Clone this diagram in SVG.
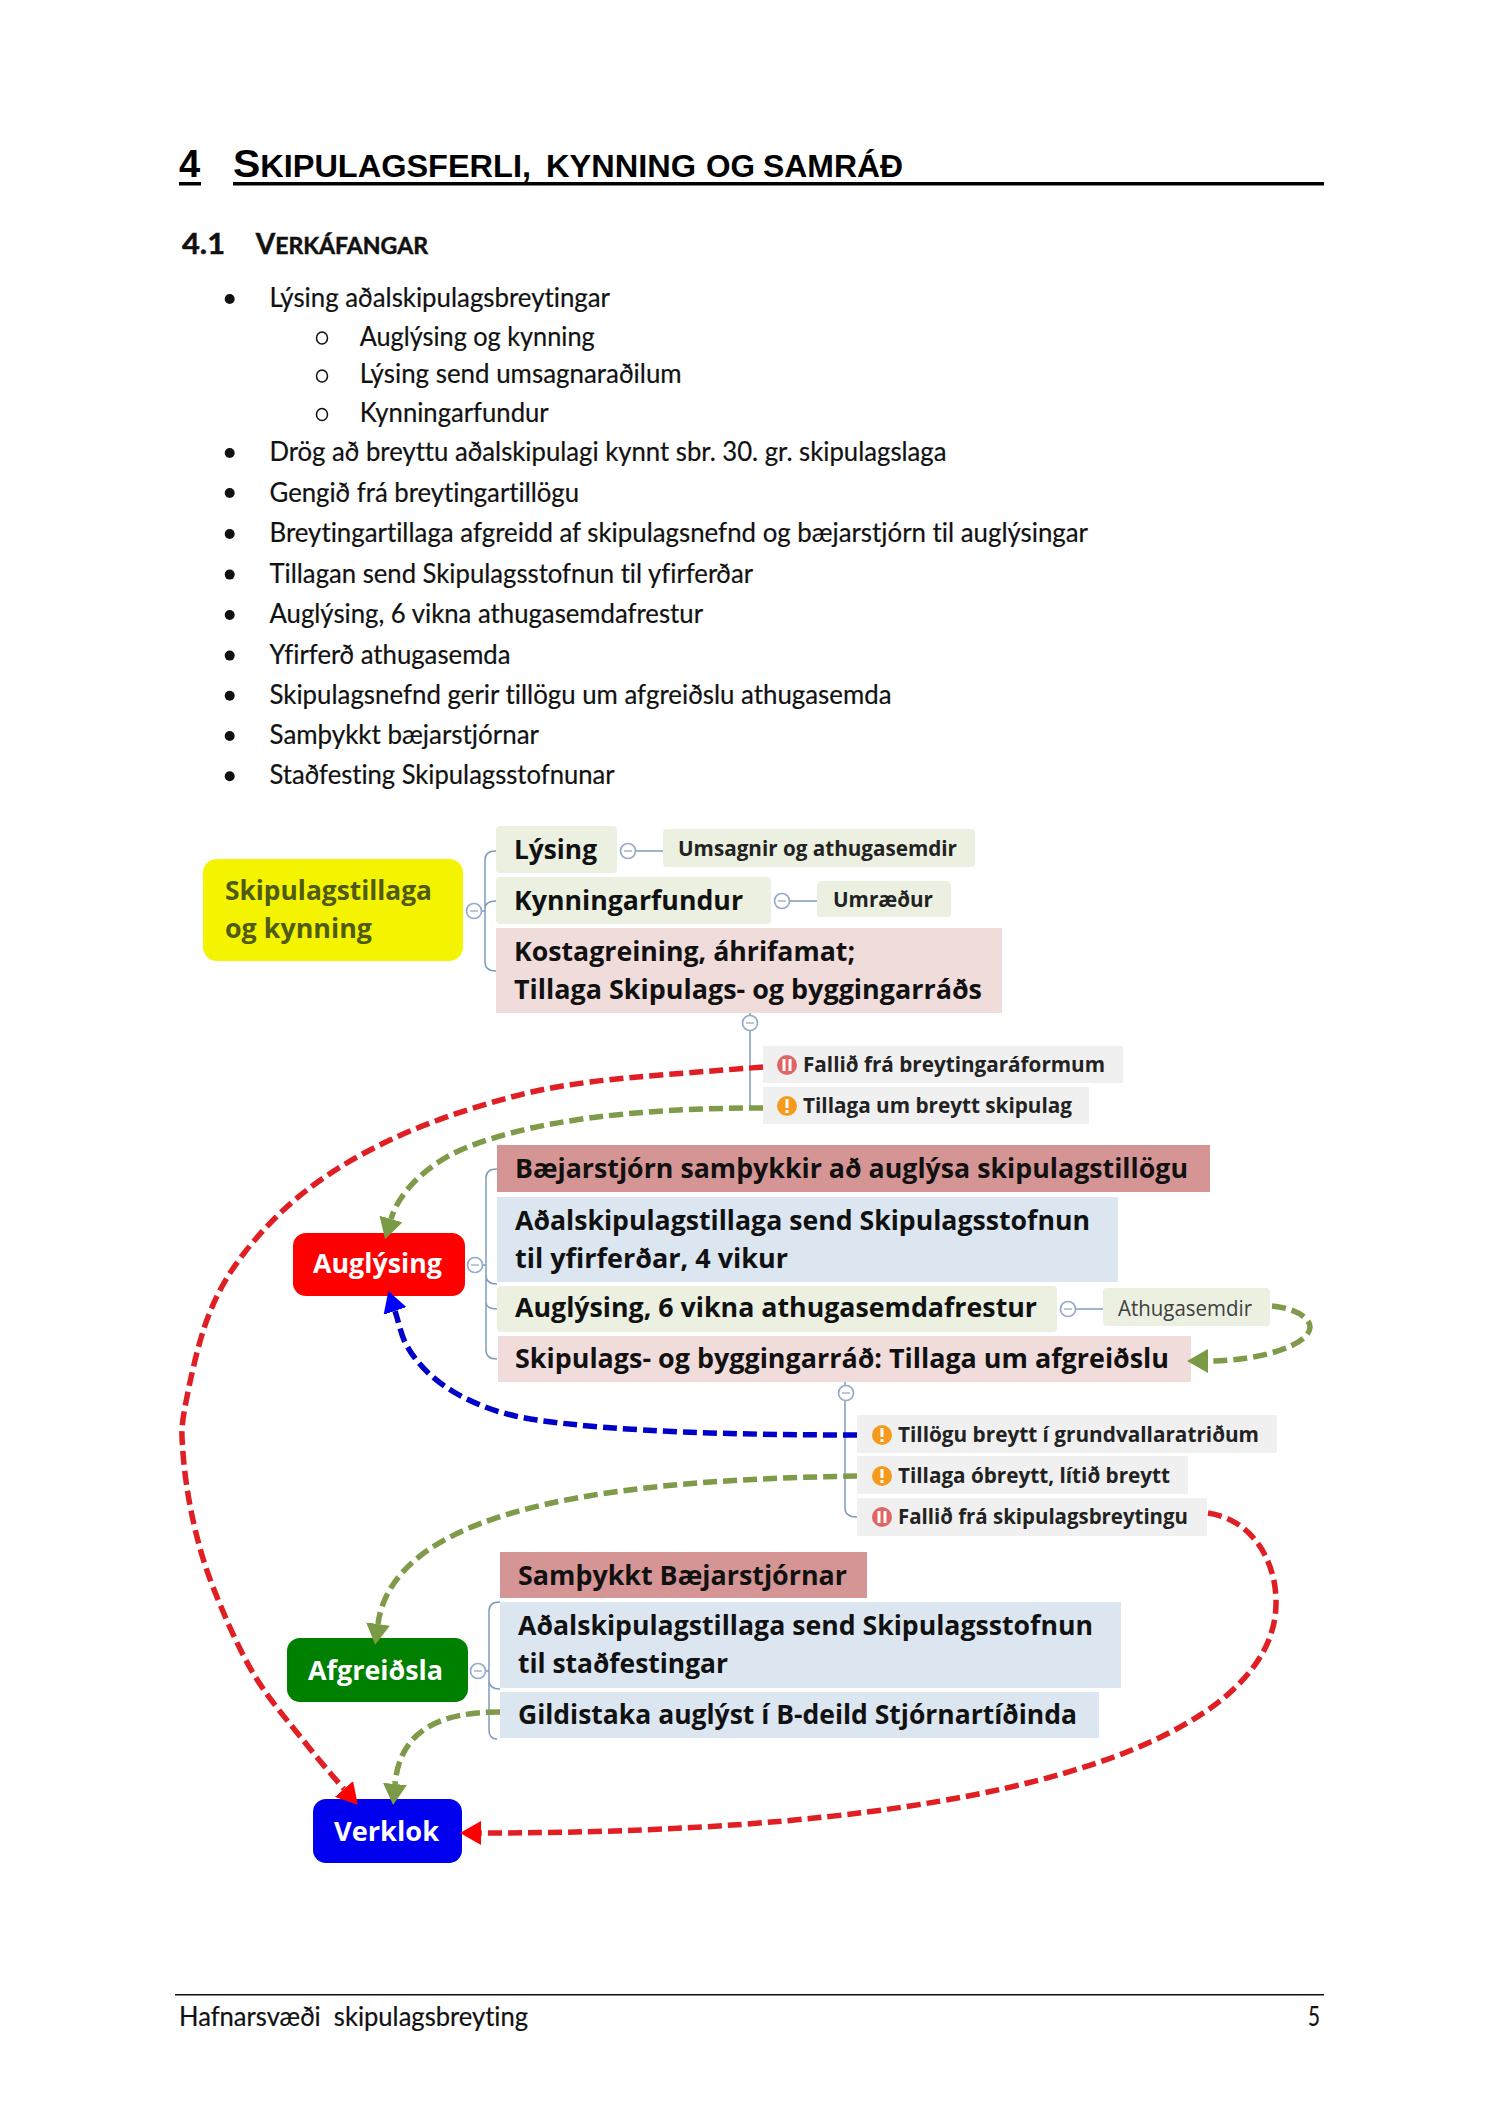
<svg xmlns="http://www.w3.org/2000/svg" width="1500" height="2121" viewBox="0 0 1500 2121">
<style>
text{white-space:pre;font-variant-ligatures:none}
.h{font-family:"Liberation Sans",Arial,sans-serif;font-weight:700;fill:#000}
.s{font-family:Lato,"Liberation Sans",sans-serif;font-weight:700;fill:#111;stroke:#111;stroke-width:.5}
.b{font-family:Lato,"Liberation Sans",sans-serif;font-size:26px;fill:#111;stroke:#111;stroke-width:.2}
.t{font-family:"Open Sans","Liberation Sans",sans-serif;font-weight:700;font-size:26px;fill:#111}
.m{font-family:"Open Sans","Liberation Sans",sans-serif;font-weight:700;font-size:21px;fill:#222}
.w{fill:#fff}
.y{fill:#4f5a12}
.gr{fill:#ebf0e0}.pk{fill:#f0dcdb}.dp{fill:#d59594}.bl{fill:#dce6f1}.gy{fill:#f0f0f0}
.br{fill:none;stroke:#7f9bbd;stroke-width:1.5}
.cc{fill:#fff;stroke:#94abcb;stroke-width:1.7}
.mn{stroke:#a8b4c4;stroke-width:1.5}
.dash{fill:none;stroke-width:5.5;stroke-dasharray:14 6}
.cr{stroke:#e01f24}.cg{stroke:#7f9a48}.cb{stroke:#0000c8}
.o{fill:#f59a1c}.r{fill:#e06666}
.iw{fill:#fff}
</style>
<defs>
<marker id="ar" markerUnits="userSpaceOnUse" markerWidth="21" markerHeight="24" viewBox="0 0 21 24" refX="0" refY="12" orient="auto"><path d="M0,0L21,12L0,24Z" fill="#ff0000"/></marker>
<marker id="ag" markerUnits="userSpaceOnUse" markerWidth="21" markerHeight="24" viewBox="0 0 21 24" refX="0" refY="12" orient="auto"><path d="M0,0L21,12L0,24Z" fill="#7a9a45"/></marker>
<marker id="ab" markerUnits="userSpaceOnUse" markerWidth="21" markerHeight="24" viewBox="0 0 21 24" refX="0" refY="12" orient="auto"><path d="M0,0L21,12L0,24Z" fill="#0000ff"/></marker>
</defs>
<rect width="1500" height="2121" fill="#fff"/>
<g id="page-heading">
<text class="h" x="179" y="177.3" font-size="38">4</text>
<rect x="179" y="182" width="22" height="3.5"/>
<text class="h" x="233" y="177.3" font-size="31" textLength="298" lengthAdjust="spacingAndGlyphs"><tspan font-size="39">S</tspan>KIPULAGSFERLI,</text>
<text class="h" x="546" y="177.3" font-size="31" textLength="150" lengthAdjust="spacingAndGlyphs">KYNNING</text>
<text class="h" x="706" y="177.3" font-size="31" textLength="49" lengthAdjust="spacingAndGlyphs">OG</text>
<text class="h" x="763" y="177.3" font-size="31" textLength="140" lengthAdjust="spacingAndGlyphs">SAMRÁÐ</text>
<rect x="233" y="182" width="1091" height="3.5"/>
<text class="s" x="182" y="253.5" font-size="28" textLength="43" lengthAdjust="spacingAndGlyphs">4.1</text>
<text class="s" x="255.7" y="253.5" font-size="23" textLength="172.3" lengthAdjust="spacingAndGlyphs"><tspan font-size="28">V</tspan>ERKÁFANGAR</text>
</g>
<g id="task-list">
<g fill="#111"><circle cx="229.7" cy="299" r="5"/><circle cx="229.7" cy="453" r="5"/><circle cx="229.7" cy="493" r="5"/><circle cx="229.7" cy="534" r="5"/><circle cx="229.7" cy="574.6" r="5"/><circle cx="229.7" cy="615" r="5"/><circle cx="229.7" cy="655.6" r="5"/><circle cx="229.7" cy="695.7" r="5"/><circle cx="229.7" cy="736" r="5"/><circle cx="229.7" cy="776.3" r="5"/></g>
<g fill="none" stroke="#111" stroke-width="1.5"><ellipse cx="322" cy="338" rx="5.5" ry="6"/><ellipse cx="322" cy="376" rx="5.5" ry="6"/><ellipse cx="322" cy="414.5" rx="5.5" ry="6"/></g>
<text class="b" x="269.5" y="307" textLength="340.5" lengthAdjust="spacingAndGlyphs">Lýsing aðalskipulagsbreytingar</text>
<text class="b" x="359.7" y="345.5" textLength="235" lengthAdjust="spacingAndGlyphs">Auglýsing og kynning</text>
<text class="b" x="359.7" y="383.4" textLength="322" lengthAdjust="spacingAndGlyphs">Lýsing send umsagnaraðilum</text>
<text class="b" x="359.7" y="421.8" textLength="189" lengthAdjust="spacingAndGlyphs">Kynningarfundur</text>
<text class="b" x="269.5" y="461.4" textLength="677" lengthAdjust="spacingAndGlyphs">Drög að breyttu aðalskipulagi kynnt sbr. 30. gr. skipulagslaga</text>
<text class="b" x="269.5" y="501.5" textLength="309.5" lengthAdjust="spacingAndGlyphs">Gengið frá breytingartillögu</text>
<text class="b" x="269.5" y="542" textLength="818.5" lengthAdjust="spacingAndGlyphs">Breytingartillaga afgreidd af skipulagsnefnd og bæjarstjórn til auglýsingar</text>
<text class="b" x="269.5" y="582.6" textLength="483.5" lengthAdjust="spacingAndGlyphs">Tillagan send Skipulagsstofnun til yfirferðar</text>
<text class="b" x="269.5" y="623" textLength="433.5" lengthAdjust="spacingAndGlyphs">Auglýsing, 6 vikna athugasemdafrestur</text>
<text class="b" x="269.5" y="663.6" textLength="241" lengthAdjust="spacingAndGlyphs">Yfirferð athugasemda</text>
<text class="b" x="269.5" y="703.7" textLength="622" lengthAdjust="spacingAndGlyphs">Skipulagsnefnd gerir tillögu um afgreiðslu athugasemda</text>
<text class="b" x="269.5" y="744" textLength="269.5" lengthAdjust="spacingAndGlyphs">Samþykkt bæjarstjórnar</text>
<text class="b" x="269.5" y="784.3" textLength="345" lengthAdjust="spacingAndGlyphs">Staðfesting Skipulagsstofnunar</text>
</g>
<g id="branches">
<path class="br" d="M496,851Q485,851 485,860V962Q485,971 496,971M485,909Q485,901 496,901M482,911H485"/>
<path class="br" d="M636,851H663M790,901H817"/>
<path class="br" d="M750,1013V1107H763"/>
<path class="br" d="M497,1169Q486,1169 486,1178V1350Q486,1359 497,1359M486,1275Q486,1284 497,1284M486,1302Q486,1309 497,1309M483,1265H486"/>
<path class="br" d="M1076,1309H1103"/>
<path class="br" d="M845,1382V1508Q845,1517 857,1517"/>
<path class="br" d="M500,1602Q489,1602 489,1611V1730Q489,1739 497,1739M489,1680Q489,1689 500,1689M486,1671H489"/>
</g>
<g id="n-skipulagstillaga"><rect x="203" y="859" width="260" height="102" rx="14" fill="#f4f400"/><text class="t y" x="225" y="900" textLength="207" lengthAdjust="spacingAndGlyphs">Skipulagstillaga</text><text class="t y" x="225" y="938" textLength="147" lengthAdjust="spacingAndGlyphs">og kynning</text></g>
<g id="n-lysing"><rect x="496" y="826" width="121" height="47" rx="4" class="gr"/><text class="t" x="514" y="859" textLength="83" lengthAdjust="spacingAndGlyphs">Lýsing</text></g>
<g id="n-umsagnir"><rect x="663" y="829" width="312" height="38" rx="4" class="gr"/><text class="m" x="678" y="856" textLength="279" lengthAdjust="spacingAndGlyphs">Umsagnir og athugasemdir</text></g>
<g id="n-kynningarfundur"><rect x="496" y="877" width="275" height="47" rx="4" class="gr"/><text class="t" x="514" y="910" textLength="229" lengthAdjust="spacingAndGlyphs">Kynningarfundur</text></g>
<g id="n-umraedur"><rect x="817" y="881" width="134" height="36" rx="4" class="gr"/><text class="m" x="833" y="907" textLength="100" lengthAdjust="spacingAndGlyphs">Umræður</text></g>
<g id="n-kostagreining"><rect x="496" y="928" width="506" height="85" class="pk"/><text class="t" x="514" y="961" textLength="341" lengthAdjust="spacingAndGlyphs">Kostagreining, áhrifamat;</text><text class="t" x="514" y="999" textLength="468" lengthAdjust="spacingAndGlyphs">Tillaga Skipulags- og byggingarráðs</text></g>
<g id="n-fallid1"><rect x="763" y="1046" width="360" height="37" class="gy"/><circle cx="787" cy="1065" r="10" class="r"/><path class="iw" d="M782.5,1059h3v12h-3zM788.5,1059h3v12h-3z"/><text class="m" x="803" y="1072" textLength="302" lengthAdjust="spacingAndGlyphs">Fallið frá breytingaráformum</text></g>
<g id="n-tillaga-breytt"><rect x="763" y="1087" width="326" height="37" class="gy"/><circle cx="787" cy="1106" r="10" class="o"/><path class="iw" d="M785.5,1099h3v9h-3zM785.5,1110h3v3h-3z"/><text class="m" x="803" y="1113" textLength="269" lengthAdjust="spacingAndGlyphs">Tillaga um breytt skipulag</text></g>
<g id="n-baejarstjorn"><rect x="497" y="1145" width="713" height="47" class="dp"/><text class="t" x="515" y="1178" textLength="673" lengthAdjust="spacingAndGlyphs">Bæjarstjórn samþykkir að auglýsa skipulagstillögu</text></g>
<g id="n-adal1"><rect x="497" y="1197" width="621" height="85" class="bl"/><text class="t" x="515" y="1230" textLength="575" lengthAdjust="spacingAndGlyphs">Aðalskipulagstillaga send Skipulagsstofnun</text><text class="t" x="515" y="1268" textLength="273" lengthAdjust="spacingAndGlyphs">til yfirferðar, 4 vikur</text></g>
<g id="n-auglysing-frestur"><rect x="497" y="1286" width="560" height="46" rx="4" class="gr"/><text class="t" x="515" y="1317" textLength="522" lengthAdjust="spacingAndGlyphs">Auglýsing, 6 vikna athugasemdafrestur</text></g>
<g id="n-athugasemdir"><rect x="1103" y="1288" width="167" height="38" rx="4" class="gr"/><text x="1118" y="1316" textLength="134" lengthAdjust="spacingAndGlyphs" font-family="Open Sans, Liberation Sans, sans-serif" font-size="21" fill="#404040">Athugasemdir</text></g>
<g id="n-skipulagsrad"><rect x="498" y="1336" width="693" height="46" class="pk"/><text class="t" x="515" y="1368" textLength="654" lengthAdjust="spacingAndGlyphs">Skipulags- og byggingarráð: Tillaga um afgreiðslu</text></g>
<g id="n-tillogu"><rect x="857" y="1415" width="420" height="38" class="gy"/><circle cx="882" cy="1435" r="10" class="o"/><path class="iw" d="M880.5,1428h3v9h-3zM880.5,1439h3v3h-3z"/><text class="m" x="898" y="1442" textLength="361" lengthAdjust="spacingAndGlyphs">Tillögu breytt í grundvallaratriðum</text></g>
<g id="n-obreytt"><rect x="857" y="1456" width="331" height="38" class="gy"/><circle cx="882" cy="1476" r="10" class="o"/><path class="iw" d="M880.5,1469h3v9h-3zM880.5,1480h3v3h-3z"/><text class="m" x="898" y="1483" textLength="272" lengthAdjust="spacingAndGlyphs">Tillaga óbreytt, lítið breytt</text></g>
<g id="n-fallid2"><rect x="857" y="1498" width="350" height="38" class="gy"/><circle cx="882" cy="1517" r="10" class="r"/><path class="iw" d="M877.5,1511h3v12h-3zM883.5,1511h3v12h-3z"/><text class="m" x="898" y="1524" textLength="290" lengthAdjust="spacingAndGlyphs">Fallið frá skipulagsbreytingu</text></g>
<g id="n-samthykkt"><rect x="500" y="1552" width="367" height="46" class="dp"/><text class="t" x="518" y="1585" textLength="329" lengthAdjust="spacingAndGlyphs">Samþykkt Bæjarstjórnar</text></g>
<g id="n-adal2"><rect x="500" y="1602" width="621" height="86" class="bl"/><text class="t" x="518" y="1635" textLength="575" lengthAdjust="spacingAndGlyphs">Aðalskipulagstillaga send Skipulagsstofnun</text><text class="t" x="518" y="1673" textLength="210" lengthAdjust="spacingAndGlyphs">til staðfestingar</text></g>
<g id="n-gildistaka"><rect x="500" y="1692" width="599" height="46" class="bl"/><text class="t" x="518" y="1724" textLength="559" lengthAdjust="spacingAndGlyphs">Gildistaka auglýst í B-deild Stjórnartíðinda</text></g>
<g id="n-auglysing"><rect x="293" y="1233" width="172" height="63" rx="13" fill="#ff0000"/><text class="t w" x="313" y="1273" textLength="129" lengthAdjust="spacingAndGlyphs">Auglýsing</text></g>
<g id="n-afgreidsla"><rect x="287" y="1638" width="181" height="64" rx="13" fill="#008000"/><text class="t w" x="308" y="1680" textLength="135" lengthAdjust="spacingAndGlyphs">Afgreiðsla</text></g>
<g id="n-verklok"><rect x="313" y="1799" width="149" height="64" rx="13" fill="#0000ee"/><text class="t w" x="334" y="1840.5" textLength="105" lengthAdjust="spacingAndGlyphs">Verklok</text></g>
<g id="collapse-handles">
<g class="cc"><circle cx="474" cy="911" r="7.5"/><circle cx="628" cy="851" r="7.5"/><circle cx="782" cy="901" r="7.5"/><circle cx="750" cy="1023" r="7.5"/><circle cx="475" cy="1265" r="7.5"/><circle cx="1068" cy="1309" r="7.5"/><circle cx="846" cy="1393" r="7.5"/><circle cx="478" cy="1671" r="7.5"/></g>
<path class="mn" d="M470,911h8M624,851h8M778,901h8M746,1023h8M471,1265h8M1064,1309h8M842,1393h8M474,1671h8"/>
</g>
<g id="connectors">
<path class="dash cr" marker-end="url(#ar)" d="M763,1067C734,1069.5 635.5,1076 590,1082C544.5,1088 523.3,1093.3 490,1103C456.7,1112.7 420.5,1125.5 390,1140C359.5,1154.5 331.2,1171.3 307,1190C282.8,1208.7 261.5,1230.8 245,1252C228.5,1273.2 218,1291.2 208,1317C198,1342.8 189.2,1384.3 185,1407C180.8,1429.7 181.7,1434.2 183,1453C184.3,1471.8 188,1497.7 193,1520C198,1542.3 203,1561.5 213,1587C223,1612.5 238,1647.5 253,1673C268,1698.5 287.8,1720.7 303,1740C318.2,1759.3 337,1781 344,1789"/>
<path class="dash cg" marker-end="url(#ag)" d="M763,1108C640,1108 520,1120 450,1155C420,1172 398,1195 391,1219"/>
<path class="dash cb" marker-end="url(#ab)" d="M857,1435C740,1435 620,1432 537,1420C480,1412 425,1385 404,1340C400,1330 398,1320 395,1311"/>
<path class="dash cg" marker-end="url(#ag)" d="M857,1476C640,1480 395,1500 378,1624"/>
<path class="dash cg" marker-end="url(#ag)" d="M500,1712C440,1712 400,1730 395,1784"/>
<path class="dash cg" marker-end="url(#ag)" d="M1272,1306C1295,1308 1310,1318 1310,1327C1310,1345 1260,1361 1208,1361"/>
<path class="dash cr" marker-end="url(#ar)" d="M1208,1513C1255,1520 1277,1565 1276,1604C1275,1710 1100,1833 481,1833"/>
</g>
<g id="page-footer">
<path d="M175,1994.7H1324" stroke="#111" stroke-width="1.5"/>
<text class="b" x="179" y="2026" textLength="349" lengthAdjust="spacingAndGlyphs">Hafnarsvæði  skipulagsbreyting</text>
<text class="b" x="1308" y="2026" textLength="12" lengthAdjust="spacingAndGlyphs">5</text>
</g>
</svg>
